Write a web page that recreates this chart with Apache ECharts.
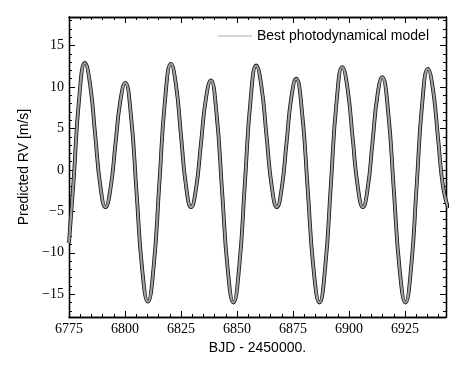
<!DOCTYPE html>
<html>
<head>
<meta charset="utf-8">
<script src="https://cdn.jsdelivr.net/npm/echarts@6/dist/echarts.min.js"></script>
<style>
  html, body { margin: 0; padding: 0; background: #fff; }
  #id_rv { width: 463px; height: 371px; }
</style>
</head>
<body>
<div id="id_rv"></div>
<script>
// predicted RV curve (BJD - 2450000, m/s)
var bjd = [6775.0, 6777.0, 6779.55, 6782.1, 6784.4, 6786.7, 6789.0, 6791.3,
    6793.5, 6795.7, 6797.9, 6800.1, 6802.63, 6805.15, 6807.68, 6810.2,
    6812.78, 6815.35, 6817.93, 6820.5, 6822.75, 6825.0, 6827.25, 6829.5,
    6831.7, 6833.9, 6836.1, 6838.3, 6840.83, 6843.35, 6845.88, 6848.4,
    6850.95, 6853.5, 6856.05, 6858.6, 6860.9, 6863.2, 6865.5, 6867.8,
    6869.95, 6872.1, 6874.25, 6876.4, 6879.0, 6881.6, 6884.2, 6886.8,
    6889.35, 6891.9, 6894.45, 6897.0, 6899.3, 6901.6, 6903.9, 6906.2,
    6908.35, 6910.5, 6912.65, 6914.8, 6917.4, 6920.0, 6922.6, 6925.2,
    6927.7, 6930.2, 6932.7, 6935.2, 6937.48, 6939.75, 6942.03, 6944.3];
var rv = [-8.8, -1.5, 8.68, 12.9, 10.35, 4.2, -1.95, -4.5,
    -2.3, 3.0, 8.3, 10.5, 6.63, -2.7, -12.03, -15.9,
    -11.7, -1.55, 8.6, 12.8, 10.27, 4.15, -1.97, -4.5,
    -2.26, 3.15, 8.56, 10.8, 6.87, -2.6, -12.07, -16.0,
    -11.81, -1.7, 8.41, 12.6, 10.09, 4.05, -1.99, -4.5,
    -2.23, 3.25, 8.73, 11.0, 7.04, -2.5, -12.04, -16.0,
    -11.84, -1.8, 8.24, 12.4, 9.92, 3.95, -2.02, -4.5,
    -2.2, 3.35, 8.9, 11.2, 7.22, -2.4, -12.02, -16.0,
    -11.87, -1.9, 8.07, 12.2, 9.74, 3.8, -2.14, -4.6];

var xMajor = [6775, 6800, 6825, 6850, 6875, 6900, 6925];
var yMajor = [-15, -10, -5, 0, 5, 10, 15];
var legendName = 'Best photodynamical model';

var xMin = 6775, xMax = 6943.3;
var yMin = -17.75, yMax = 18.45;

var xMinor = [];
for (var v = 6780; v < xMax; v += 5) if (v % 25 !== 0) xMinor.push(v);
var yMinor = [];
for (var w = -17; w <= 18; w++) if (w % 5 !== 0) yMinor.push(w);

var serif = 'Liberation Serif';
var sans = 'Liberation Sans';

function axis(pos, min, max, values, len, labels) {
    return {
        type: 'value',
        position: pos,
        min: min,
        max: max,
        axisLine: { show: true, onZero: false, lineStyle: { color: '#000', width: 1.3 } },
        axisTick: { show: true, inside: true, length: len, customValues: values,
            lineStyle: { color: '#000', width: 1 } },
        axisLabel: labels ? {
            show: true, customValues: values, color: '#000', fontFamily: serif, fontSize: 14,
            margin: 5,
            formatter: function (val) { return String(val).replace('-', '\u2212'); }
        } : { show: false },
        splitLine: { show: false }
    };
}

var xBottom = axis('bottom', xMin, xMax, xMajor, 6, true);
xBottom.name = 'BJD - 2450000.';
xBottom.nameLocation = 'middle';
xBottom.nameGap = 24;
xBottom.nameTextStyle = { color: '#000', fontFamily: sans, fontSize: 14 };

var yLeft = axis('left', yMin, yMax, yMajor, 6, true);
yLeft.name = 'Predicted RV [m/s]';
yLeft.nameLocation = 'middle';
yLeft.nameGap = 38;
yLeft.nameTextStyle = { color: '#000', fontFamily: sans, fontSize: 14 };

var myChart = echarts.init(document.getElementById('id_rv'));
var pts = bjd.map(function (d, i) { return [d, rv[i]]; });

var option = {
    backgroundColor: '#fff',
    animation: false,
    grid: { left: 69, right: 17, top: 17, bottom: 54 },
    legend: {
        data: [{ name: legendName, icon: 'rect' }],
        left: 213,
        top: 24,
        itemWidth: 34,
        itemHeight: 1.6,
        textStyle: { color: '#000', fontFamily: sans, fontSize: 14 }
    },
    xAxis: [
        xBottom,
        axis('bottom', xMin, xMax, xMinor, 3, false),
        axis('top', xMin, xMax, xMajor, 6, false),
        axis('top', xMin, xMax, xMinor, 3, false)
    ],
    yAxis: [
        yLeft,
        axis('left', yMin, yMax, yMinor, 3, false),
        axis('right', yMin, yMax, yMajor, 6, false),
        axis('right', yMin, yMax, yMinor, 3, false)
    ],
    series: [
        {
            name: 'edge',
            type: 'line',
            data: pts,
            smooth: 0.5,
            symbol: 'none',
            clip: true,
            lineStyle: { color: '#111', width: 3.8 }
        },
        {
            name: 'band',
            type: 'line',
            data: pts,
            smooth: 0.5,
            symbol: 'none',
            clip: true,
            lineStyle: { color: '#a0a0a0', width: 2.2 }
        },
        {
            name: legendName,
            type: 'line',
            data: [],
            symbol: 'none',
            itemStyle: { color: '#c8c8c8' },
            lineStyle: { color: '#c8c8c8', width: 1.5 }
        }
    ]
};
myChart.setOption(option);
</script>
</body>
</html>
